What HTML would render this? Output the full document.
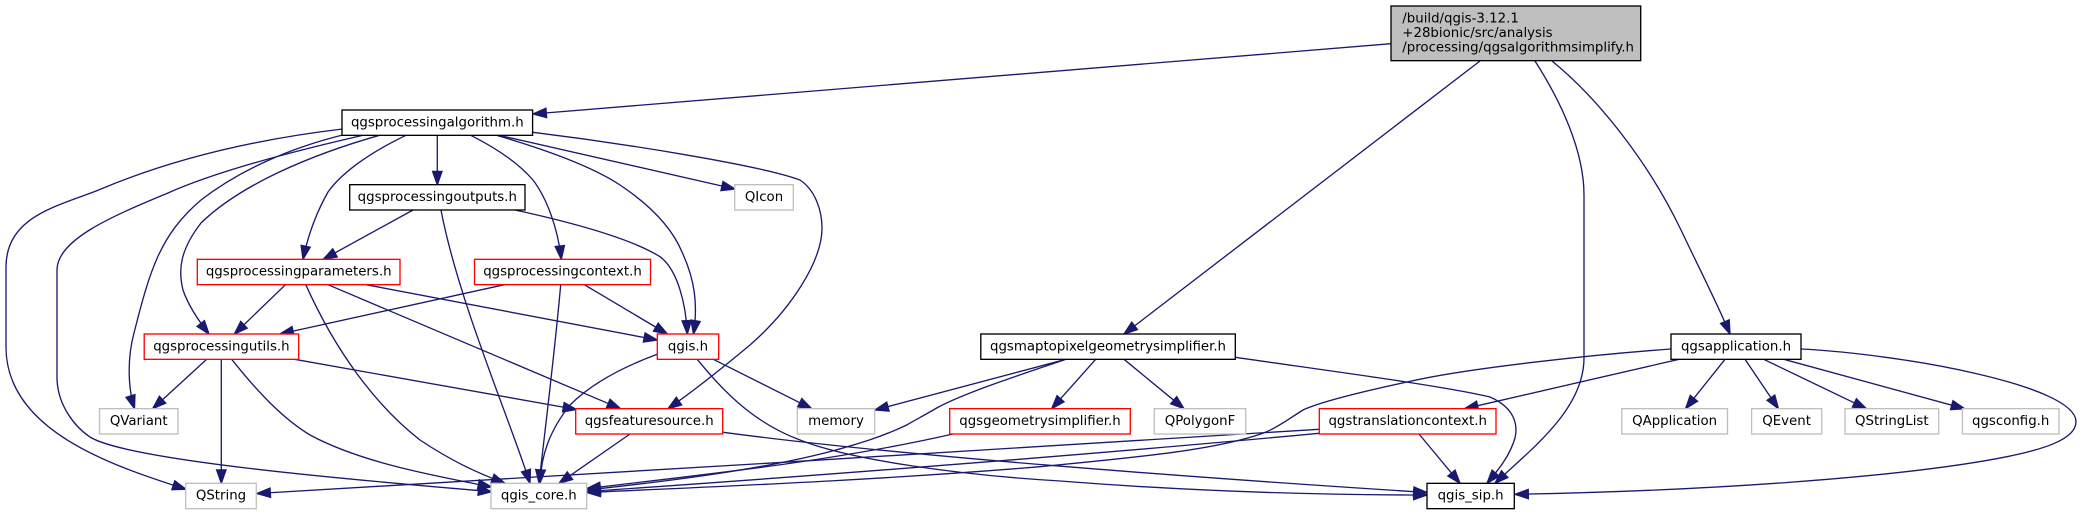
<!DOCTYPE html>
<html><head><meta charset="utf-8"><title>qgsalgorithmsimplify.h include graph</title>
<style>
html,body{margin:0;padding:0;background:#fff;width:2082px;height:515px;overflow:hidden}
svg{display:block}
.e{fill:none;stroke:#191970;stroke-width:1.33;marker-end:url(#a)}
.b{fill:#fff;stroke-width:1.33}
.k{stroke:#000}.r{stroke:#f00}.g{stroke:#bfbfbf}
text{font-family:"DejaVu Sans","Liberation Sans",sans-serif;font-size:13.33px;fill:#000;text-anchor:middle}
</style></head><body>
<svg width="2082" height="515" viewBox="0 0 2082 515" xmlns="http://www.w3.org/2000/svg">
<defs><marker id="a" markerUnits="userSpaceOnUse" markerWidth="20" markerHeight="20" refX="13.33" refY="0" orient="auto" overflow="visible" viewBox="-2 -10 20 20"><polygon points="0,-4.67 13.33,0 0,4.67" fill="#191970" stroke="#191970" stroke-width="1.33"/></marker></defs>

<path class="e" d="M1391 43.7L533 114"/>
<path class="e" d="M1480 61L1124 334"/>
<path class="e" d="M1535 61C1560 100 1584 150 1584 195L1584 358C1584 410 1530 450 1495 483.3"/>
<path class="e" d="M1552 61C1600 100 1650 165 1681 230C1700 270 1718 305 1730 334"/>

<path class="e" d="M437.3 135.3L437.3 184.7"/>
<path class="e" d="M342.5 129C250 140 170 160 101 189C60 206 6 215 6 267L6 347C6 430 110 465 186 489.3"/>
<path class="e" d="M362 135.5C290 152 215 172 168 193C110 217 57 240 57 270L57 377C57 405 75 427 90 437C130 462 380 482 491.7 491.7"/>
<path class="e" d="M342.7 135C290 148 240 170 201 200C160 235 150 270 134 333C128 355 127 385 134.5 408.7"/>
<path class="e" d="M379.5 135.3C310 155 240 185 201 223C180 250 178 270 183 290C188 305 198 320 209 334"/>
<path class="e" d="M406 135.3C365 155 340 175 328 192C315 215 307 240 303 259.3"/>
<path class="e" d="M413 210L323.3 259.3"/>
<path class="e" d="M441 210C458 300 510 420 530 483.3"/>
<path class="e" d="M515 210C570 222 630 238 660 256.7C678 270 686 305 687.3 334"/>
<path class="e" d="M470.7 135.3C500 150 520 165 533 180C548 200 558 230 561.3 259.3"/>
<path class="e" d="M496.7 135.3C540 148 590 165 620 185C650 205 672 228 682 252C695 280 698 305 693.5 334"/>
<path class="e" d="M500 135.5L735 189"/>
<path class="e" d="M533 132.3C620 143 760 165 800 180C815 190 822 210 822 228C822 262 790 310 750 345C720 370 695 390 668 408.7"/>

<path class="e" d="M285.5 284.7L234.4 334"/>
<path class="e" d="M305.8 284.7C335 350 375 405 420 440C450 460 475 472 505 483.3"/>
<path class="e" d="M328 284.7L620.5 408.7"/>
<path class="e" d="M366 284.7L657.3 340"/>
<path class="e" d="M504.5 284.7L280 334"/>
<path class="e" d="M560.7 284.7C555 350 545 430 539 483.3"/>
<path class="e" d="M584.3 284.7L667.3 334"/>

<path class="e" d="M206.7 359.3L152.7 408.7"/>
<path class="e" d="M221.3 359.3L221.3 483.3"/>
<path class="e" d="M231.7 359.3C260 395 285 420 310 435C360 462 430 475 491.5 487"/>
<path class="e" d="M294.6 359.3L576.5 409.5"/>

<path class="e" d="M657.3 354.3C620 368 590 385 570 405C550 430 541 455 540 483.3"/>
<path class="e" d="M697.3 359.3C730 400 760 425 800 440C850 460 960 475 1060 481C1200 492 1320 495 1427 495"/>
<path class="e" d="M713.3 359.3L811.7 408.7"/>

<path class="e" d="M630 434L559 483.3"/>
<path class="e" d="M723.3 432.3C900 456 1200 478 1427 492.5"/>

<path class="e" d="M1066 359.3L875 410"/>
<path class="e" d="M1064 360C1010 378 960 395 936.7 408C925 415 915 420 906.7 425C880 438 850 446 836 450C770 468 680 480 587 490"/>
<path class="e" d="M953 434C830 462 700 475 587 488.5"/>
<path class="e" d="M1095.7 359.3L1051.7 408.7"/>
<path class="e" d="M1124 359.3L1184 408.7"/>
<path class="e" d="M1235.7 357.3C1300 367 1440 385 1490 397C1515 408 1518 425 1515 438C1510 455 1500 468 1487 483.3"/>

<path class="e" d="M1319 429.3C1100 444 500 479 257 493.5"/>
<path class="e" d="M1319 433.3C1100 454 800 477 587 491.5"/>
<path class="e" d="M1419 434L1460 483.3"/>

<path class="e" d="M1671 349C1590 355 1470 368 1413 380.7C1360 392 1320 402 1303 410C1290 418 1280 426 1266.7 431.7C1220 450 1130 458 1040 466.7C880 480 730 486 587 492.5"/>
<path class="e" d="M1679 359.3L1464.6 408.7"/>
<path class="e" d="M1725 359.3L1685.6 408.7"/>
<path class="e" d="M1745 359.3L1778.4 408.7"/>
<path class="e" d="M1763.7 359.3L1866.4 408.7"/>
<path class="e" d="M1783.8 359.3L1964.6 408.7"/>
<path class="e" d="M1801 349C1900 354 2076 385 2076 421.7C2076 440 2040 450 2007 456.7C1900 478 1700 491 1515 494.3"/>

<rect class="k" x="1391" y="6" width="249.7" height="54.67" fill="#bfbfbf" stroke-width="1.33"/>
<text x="1402.3" y="22.3" style="text-anchor:start">/build/qgis-3.12.1</text>
<text x="1402.3" y="37" style="text-anchor:start">+28bionic/src/analysis</text>
<text x="1402.3" y="51.7" style="text-anchor:start">/processing/qgsalgorithmsimplify.h</text>

<rect class="b k" x="342" y="110" width="190.6" height="25.33"/><text x="437.3" y="126.3">qgsprocessingalgorithm.h</text>
<rect class="b k" x="349.7" y="184.67" width="175.3" height="25.33"/><text x="437.3" y="201">qgsprocessingoutputs.h</text>
<rect class="b g" x="734.7" y="184.67" width="58.6" height="25.33"/><text x="764" y="201">QIcon</text>
<rect class="b r" x="197.3" y="259.33" width="202.7" height="25.33"/><text x="298.7" y="275.6">qgsprocessingparameters.h</text>
<rect class="b r" x="474.5" y="259.33" width="176" height="25.33"/><text x="562.5" y="275.6">qgsprocessingcontext.h</text>
<rect class="b r" x="144.2" y="334" width="154.5" height="25.33"/><text x="221.4" y="350.3">qgsprocessingutils.h</text>
<rect class="b r" x="657.3" y="334" width="61.4" height="25.33"/><text x="688" y="350.3">qgis.h</text>
<rect class="b k" x="980.8" y="334" width="254.5" height="25.33"/><text x="1108" y="350.3">qgsmaptopixelgeometrysimplifier.h</text>
<rect class="b k" x="1671" y="334" width="130" height="25.33"/><text x="1736" y="350.3">qgsapplication.h</text>
<rect class="b g" x="99.5" y="408.67" width="78.5" height="25.33"/><text x="138.7" y="425">QVariant</text>
<rect class="b r" x="575.7" y="408.67" width="147" height="25.33"/><text x="649.2" y="425">qgsfeaturesource.h</text>
<rect class="b g" x="797.3" y="408.67" width="77.4" height="25.33"/><text x="836" y="425">memory</text>
<rect class="b r" x="949.7" y="408.67" width="180.6" height="25.33"/><text x="1040" y="425">qgsgeometrysimplifier.h</text>
<rect class="b g" x="1154.3" y="408.67" width="91.4" height="25.33"/><text x="1200" y="425">QPolygonF</text>
<rect class="b r" x="1319.3" y="408.67" width="176.7" height="25.33"/><text x="1407.7" y="425">qgstranslationcontext.h</text>
<rect class="b g" x="1621.7" y="408.67" width="105.8" height="25.33"/><text x="1674.6" y="425">QApplication</text>
<rect class="b g" x="1751.6" y="408.67" width="70.1" height="25.33"/><text x="1786.6" y="425">QEvent</text>
<rect class="b g" x="1845" y="408.67" width="93.7" height="25.33"/><text x="1891.8" y="425">QStringList</text>
<rect class="b g" x="1962.4" y="408.67" width="96.6" height="25.33"/><text x="2010.7" y="425">qgsconfig.h</text>
<rect class="b g" x="185.7" y="483.33" width="70.6" height="25.33"/><text x="221" y="499.6">QString</text>
<rect class="b g" x="491" y="483.33" width="95.7" height="25.33"/><text x="538.8" y="499.6">qgis_core.h</text>
<rect class="b k" x="1427" y="483.33" width="87.3" height="25.33"/><text x="1470.6" y="499.6">qgis_sip.h</text>
</svg>
</body></html>
